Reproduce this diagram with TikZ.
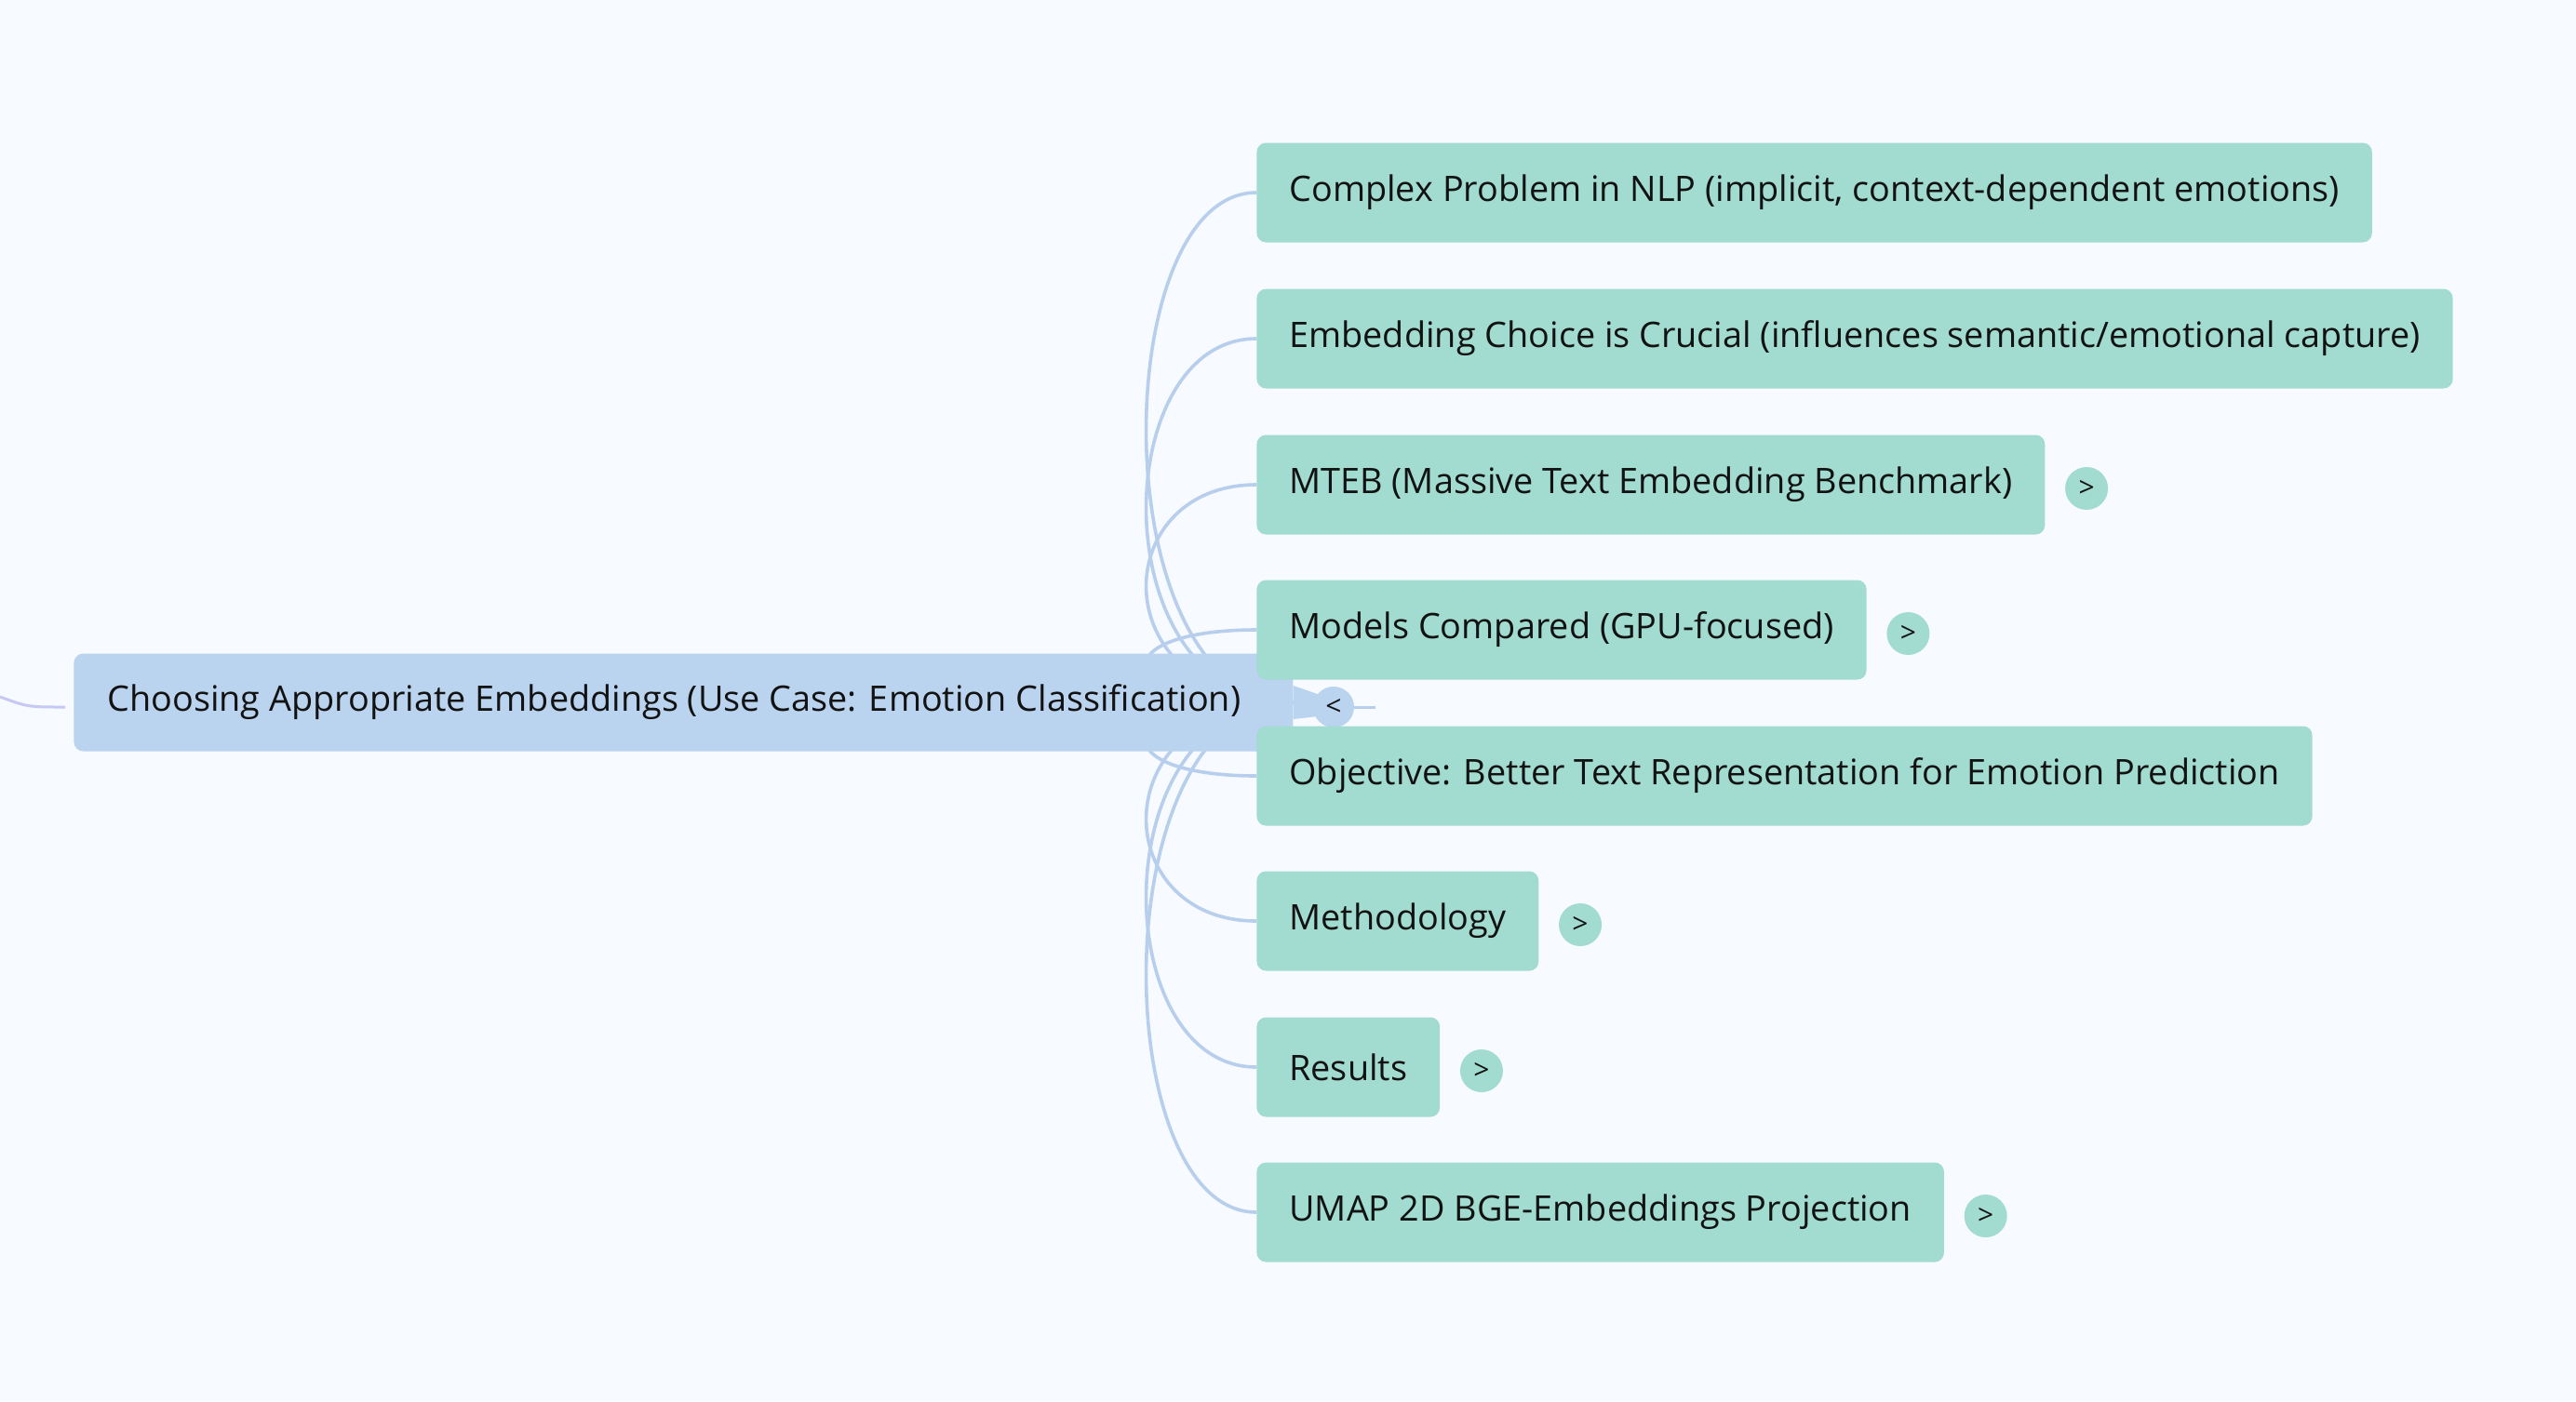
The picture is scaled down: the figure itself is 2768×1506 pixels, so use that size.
\documentclass[tikz,border=0pt]{standalone}
\usepackage{fontspec}
\setmainfont{Open Sans}
\usetikzlibrary{positioning, calc}

\pgfdeclarelayer{bg}
\pgfdeclarelayer{edges}
\pgfsetlayers{bg,edges,main}

\definecolor{pagebg}{HTML}{F7FAFF}
\definecolor{rootfill}{HTML}{BAD3EE}
\definecolor{childfill}{HTML}{A2DCD0}
\definecolor{linkblue}{HTML}{B7CFEC}
\definecolor{inlink}{HTML}{C7C9F4}
\definecolor{textdark}{HTML}{121212}

\begin{document}
\begin{tikzpicture}[
		x=0.5pt, y=-0.5pt,
		every node/.style={font=\fontsize{18.9}{22}\selectfont, text=textdark},
		% Main topic box
		rootbox/.style={fill=rootfill, rounded corners=5pt, minimum height=52.5pt,
			inner xsep=18pt, anchor=west},
		% Child topic boxes
		topic/.style={fill=childfill, rounded corners=5pt, minimum height=53.5pt,
			inner xsep=17.5pt, anchor=west},
		% Expand buttons next to topics
		expander/.style={circle, fill=childfill, minimum size=23pt, inner sep=0pt,
			font=\fontsize{15}{16}\selectfont},
		% Curved links from main topic
		link/.style={linkblue, line width=1.8pt}
		]
		
		\useasboundingbox (0,0) rectangle (2768,1506);
		\begin{pgfonlayer}{bg}
			\fill[pagebg] (0,0) rectangle (2768,1506);
		\end{pgfonlayer}
		
		% === NODES ===
		
		% Main topic on the left
		\node[rootbox] (root) at (79,755) {Choosing Appropriate Embeddings (Use Case: Emotion Classification)\hspace{10pt}\mbox{}};
		
		% Collapse button and stub
		\node[circle, fill=rootfill, minimum size=22pt, inner sep=0pt,
			font=\fontsize{15}{16}\selectfont] (collapse) at (1433,760) {<};
		\coordinate (stub) at (1478,760);
		\coordinate (parent) at (0,749);
		
		% Child topics, top to bottom
		\node[topic] (nlp) at (1350,207) {Complex Problem in NLP (implicit, context-dependent emotions)};
		\node[topic] (choice) at (1350,364) {Embedding Choice is Crucial (influences semantic/emotional capture)};
		\node[topic] (mteb) at (1350,521) {MTEB (Massive Text Embedding Benchmark)};
		\node[topic] (models) at (1350,677) {Models Compared (GPU-focused)};
		\node[topic] (objective) at (1350,834) {Objective: Better Text Representation for Emotion Prediction};
		\node[topic] (method) at (1350,990) {Methodology};
		\node[topic] (results) at (1350,1147) {Results};
		\node[topic] (umap) at (1350,1303) {UMAP 2D BGE-Embeddings Projection};
		
		% Expand buttons
		\foreach \n in {mteb,models,method,results,umap}
		\node[expander, right=10.5pt of \n, yshift=-2pt] (\n-more) {>};
		
		% === LINKS ===
		
		\begin{pgfonlayer}{edges}
			\foreach \n in {nlp,choice,mteb,models,objective,method,results,umap}
			\draw[link] (root.east) .. controls ($(root.east)+(-207,0)$)
			and ($(\n.west)+(-161,0)$) .. (\n.west);
			
			% Taper from main topic to collapse button
			\fill[rootfill] ([yshift=9pt]root.east) -- ([yshift=4pt]collapse.center)
			-- ([yshift=-4pt]collapse.center) -- ([yshift=-9pt]root.east) -- cycle;
			\draw[linkblue, line width=1.5pt] (collapse) -- (stub);
		\end{pgfonlayer}
		
		% Incoming link from the parent
		\draw[inlink, line width=1.5pt] (parent) .. controls (30,760) .. ([xshift=-4.5pt, yshift=-2.5pt]root.west);
		
	\end{tikzpicture}
\end{document}
